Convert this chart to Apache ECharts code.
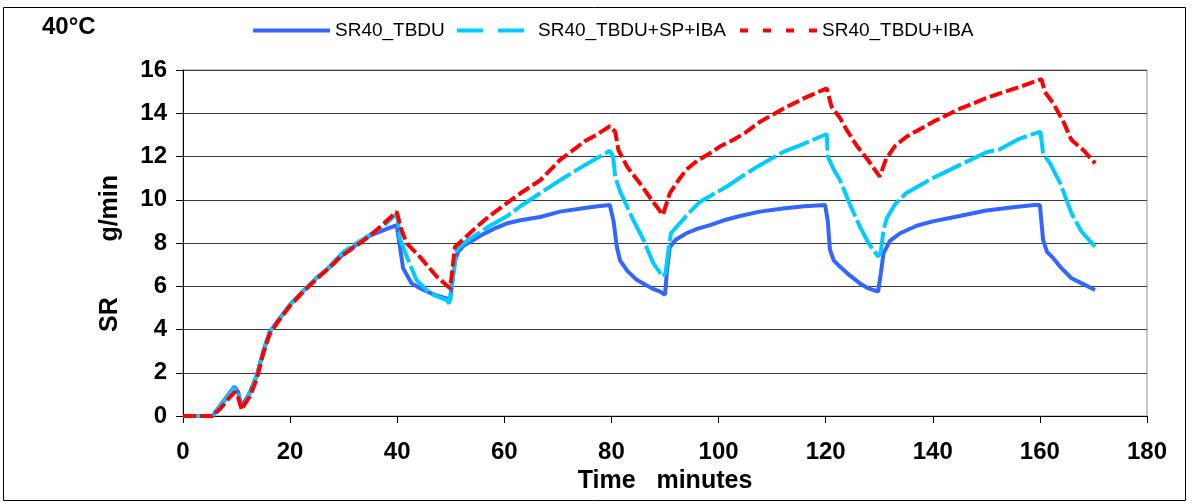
<!DOCTYPE html>
<html><head><meta charset="utf-8">
<script src="https://cdn.jsdelivr.net/npm/echarts@6/dist/echarts.min.js"></script>
<style>html,body{margin:0;padding:0;background:#fff}#c{width:1192px;height:504px}</style>
</head><body><div id="c"></div>
<script>
var seriesNames = ['SR40_TBDU', 'SR40_TBDU+SP+IBA', 'SR40_TBDU+IBA'];
var xTicks = [0, 20, 40, 60, 80, 100, 120, 140, 160, 180];
var yTicks = [0, 2, 4, 6, 8, 10, 12, 14, 16];

var tBlue = [0,5.5,7,8.5,9.6,10.3,10.9,11.6,12.5,13.8,15,16.2,18,20,22.5,25,27.5,30,32.5,35,37.5,39.9,40.5,41.1,42.7,44.9,47,49.2,49.9,50.4,50.8,51.4,52.5,54.2,56,58,60.4,63,66.7,70.4,75,77.5,79.7,80.4,81,81.6,83,84.7,86.5,88,89.1,90,90.4,90.9,92,94,96,98.4,101,104,107.7,112,116,119.9,120.4,120.8,121.5,122.7,124.5,126.4,128,129.8,130.3,130.8,132,133.9,137,140,145,150,155,159,160,160.6,161.3,162.5,163.8,165.9,168.1,170.3];
var vBlue = [0,0,0.5,1.0,1.36,1.1,0.5,0.7,1.1,1.9,3.0,3.9,4.5,5.15,5.8,6.4,6.9,7.5,7.95,8.35,8.6,8.83,7.83,6.83,6.13,5.83,5.6,5.44,5.36,6.5,7.2,7.6,7.9,8.14,8.4,8.65,8.9,9.05,9.2,9.45,9.62,9.7,9.76,9.0,7.83,7.2,6.7,6.3,6.05,5.85,5.75,5.6,6.8,7.8,8.15,8.45,8.65,8.83,9.05,9.25,9.45,9.6,9.7,9.76,9.0,7.68,7.2,6.9,6.5,6.13,5.9,5.75,6.6,7.52,8.1,8.45,8.8,9.0,9.25,9.5,9.65,9.76,9.76,8.14,7.6,7.3,6.9,6.37,6.1,5.83];

var tCyan = [0,5.5,7,8.5,9.6,10.3,10.9,11.6,12.5,13.8,15,16.2,18,20,22.5,25,27.5,30,32.5,35,37.5,40,40.5,41.8,43.6,46.1,49.2,49.7,50.4,51.1,52.5,54.2,57,60.4,63,66.7,70.4,75,77.5,79.7,80.3,80.7,81.6,84,86,87.8,89.6,90.1,90.6,91.1,92.8,94.5,96.5,99,101.5,104.5,107.7,112,116,120.2,120.4,121.5,122.7,124.5,126.4,128,129.8,130.3,130.8,131.4,133,135,140,145,150,152.5,156,160.1,160.6,161.9,163.8,165.9,167.8,170.3];
var vCyan = [0,0,0.45,0.95,1.3,1.05,0.45,0.55,1.1,1.9,3.0,3.9,4.5,5.15,5.8,6.4,6.95,7.6,8.0,8.4,8.8,9.37,8.2,7.37,6.29,5.67,5.36,5.2,6.4,7.68,8.0,8.3,8.75,9.22,9.7,10.3,10.9,11.6,11.95,12.27,12.0,11.07,10.4,9.1,8.14,7.07,6.44,6.6,7.6,8.45,8.92,9.4,9.9,10.25,10.6,11.1,11.6,12.2,12.6,13.04,12.0,11.4,10.9,9.8,8.75,8.0,7.37,7.6,8.6,9.14,9.8,10.3,11.0,11.6,12.2,12.33,12.8,13.15,12.15,11.68,10.76,9.37,8.52,7.83];

var tRed = [0,5.5,7,8.5,9.7,10.3,11,11.5,12.5,13.8,15,16.2,18,20,22.5,25,27.5,29.3,32.5,35,37.5,39.9,40.8,41.8,44.2,47.4,49.9,50.4,50.8,52.5,54.2,57,60.4,63,66.7,70.4,75,77.5,79.7,80.7,81.3,83,85.3,87.5,89.6,90.9,92.5,94,96,98.4,100.5,102.7,105,107.7,112,116,120.2,121.1,122.7,124,125.8,128,130.1,131.3,133,135,137.5,140,145,150,152.5,156,160.3,160.9,162.5,164.4,165.9,168.1,170.3];
var vRed = [0,0,0.35,0.8,1.12,0.85,0.28,0.55,0.9,1.74,2.9,3.8,4.45,5.1,5.75,6.35,6.9,7.35,7.9,8.35,8.9,9.45,8.6,7.98,7.37,6.44,5.9,7.0,7.83,8.2,8.6,9.2,9.83,10.3,10.9,11.84,12.7,13.05,13.4,13.15,12.3,11.5,10.76,10.0,9.3,10.3,10.9,11.4,11.8,12.15,12.5,12.76,13.1,13.6,14.2,14.7,15.15,14.3,13.77,13.2,12.5,11.8,11.07,11.9,12.5,12.9,13.25,13.6,14.2,14.7,14.92,15.2,15.58,15.0,14.46,13.6,12.76,12.3,11.68];

function pairs(t, v) { return t.map(function (x, i) { return [x, v[i]]; }); }

var FONT = '"Liberation Sans", Arial, sans-serif';
var colors = ['#3366FF', '#00CCFF', '#FF0000'];

var chart = echarts.init(document.getElementById('c'), null, { renderer: 'canvas' });
function legendCfg(name, left, w, lineStyle) {
  return {
    data: [name], left: left, top: 21, padding: 0, itemWidth: w, itemHeight: 14, itemGap: 0,
    textStyle: { fontFamily: FONT, fontSize: 19, color: '#000' },
    itemStyle: { opacity: 0 },
    lineStyle: lineStyle, selectedMode: false
  };
}
chart.setOption({
  animation: false,
  backgroundColor: '#fff',
  color: colors,
  title: { text: '40°C', left: 42, top: 15, padding: 0, textStyle: { fontFamily: FONT, fontSize: 24, fontWeight: 'bold', color: '#000' } },
  legend: [
    legendCfg(seriesNames[0], 251, 77, { width: 4, type: 'solid' }),
    legendCfg(seriesNames[1], 455, 76, { width: 4, type: [26, 15] }),
    legendCfg(seriesNames[2], 738, 77, { width: 4, type: [8, 15] })
  ],
  grid: { left: 183, right: 45, top: 70, bottom: 88, show: true, borderColor: '#8c8c8c', borderWidth: 1, backgroundColor: '#fff' },
  xAxis: {
    type: 'value', min: 0, max: 180, interval: 20,
    name: 'Time   minutes', nameLocation: 'middle', nameGap: 51,
    nameTextStyle: { fontFamily: FONT, fontSize: 25, fontWeight: 'bold', color: '#000' },
    axisLine: { show: true, onZero: false, lineStyle: { color: '#000', width: 1 } },
    axisTick: { show: true, inside: false, length: 7, lineStyle: { color: '#000' } },
    axisLabel: { fontFamily: FONT, fontSize: 24, fontWeight: 'bold', color: '#000', margin: 24,
      formatter: function (v) { return xTicks.indexOf(v) >= 0 ? String(v) : ''; } },
    splitLine: { show: false }
  },
  yAxis: {
    type: 'value', min: 0, max: 16, interval: 2,
    name: 'SR        g/min   ', nameLocation: 'middle', nameGap: 60, nameRotate: 90,
    nameTextStyle: { fontFamily: FONT, fontSize: 25, fontWeight: 'bold', color: '#000' },
    axisLine: { show: true, lineStyle: { color: '#000', width: 1 } },
    axisTick: { show: true, inside: false, length: 7, lineStyle: { color: '#000' } },
    axisLabel: { fontFamily: FONT, fontSize: 24, fontWeight: 'bold', color: '#000', margin: 16,
      formatter: function (v) { return yTicks.indexOf(v) >= 0 ? String(v) : ''; } },
    splitLine: { show: true, lineStyle: { color: '#3a3a3a', width: 1 } }
  },
  series: [
    { name: seriesNames[0], type: 'line', data: pairs(tBlue, vBlue), symbol: 'none', showSymbol: false,
      lineStyle: { color: colors[0], width: 4, type: 'solid' }, z: 2 },
    { name: seriesNames[1], type: 'line', data: pairs(tCyan, vCyan), symbol: 'none', showSymbol: false,
      lineStyle: { color: colors[1], width: 4, type: [32, 4] }, z: 3 },
    { name: seriesNames[2], type: 'line', data: pairs(tRed, vRed), symbol: 'none', showSymbol: false,
      lineStyle: { color: colors[2], width: 4, type: [13, 4] }, z: 4 }
  ],
  graphic: [
    { type: 'rect', silent: true, z: 100, shape: { x: 3.5, y: 7.5, width: 1182, height: 493 },
      style: { fill: null, stroke: '#000', lineWidth: 1 } }
  ]
});
</script>
</body></html>
